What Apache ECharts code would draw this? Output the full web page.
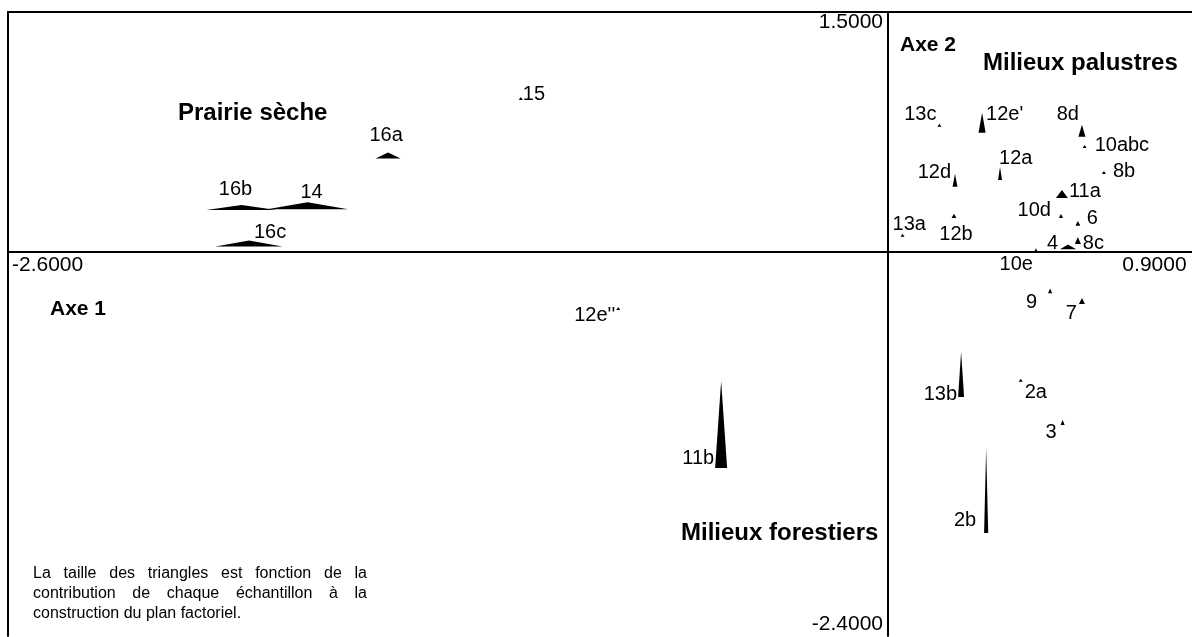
<!DOCTYPE html>
<html>
<head>
<meta charset="utf-8">
<script src="https://cdn.jsdelivr.net/npm/echarts@6/dist/echarts.min.js"></script>
<style>
html, body { margin: 0; padding: 0; background: #fff; }
#main { width: 1192px; height: 637px; }
</style>
</head>
<body>
<div id="main"></div>
<script>
// relevés : coordonnées sur les axes 1 et 2, contributions (%) aux axes 1 et 2
var names = ['13c', "12e'", '8d', '10abc', '12a', '12d', '8b', '11a', '10d', '6', '12b', '13a', '4', '8c',
    '10e', '9', '7', '13b', '2a', '3', '11b', '2b', '16a', '16b', '14', '16c', '15', "12e''"];
var axe1 = [0.152, 0.278, 0.573, 0.581, 0.331, 0.198, 0.638, 0.514, 0.511, 0.561, 0.195, 0.043, 0.532, 0.561,
    0.437, 0.479, 0.573, 0.216, 0.392, 0.516, -0.493, 0.290, -1.477, -1.910, -1.715, -1.888, -1.085, -0.797];
var axe2 = [0.783, 0.746, 0.721, 0.650, 0.450, 0.408, 0.488, 0.338, 0.213, 0.164, 0.213, 0.096, 0.017, 0.050,
    -0.003, -0.258, -0.325, -0.906, -0.811, -1.081, -1.350, -1.756, 0.584, 0.263, 0.267, 0.034, 0.950, -0.363];
var ctr1 = [1.1, 1.9, 1.9, 0.8, 0.8, 1.3, 1.1, 3.2, 0.8, 1.3, 1.3, 0.8, 4.3, 1.6,
    0.5, 0.8, 1.6, 1.6, 0.8, 1.1, 3.2, 1.1, 6.7, 18.7, 21.6, 17.9, 0.5, 0.8];
var ctr2 = [0.8, 5.3, 3.2, 0.8, 3.5, 3.5, 0.8, 2.1, 1.1, 1.3, 1.1, 0.5, 1.3, 1.9,
    1.1, 1.3, 1.6, 12.0, 0.8, 1.3, 23.2, 22.7, 1.6, 1.3, 1.9, 1.6, 0.5, 0.8];
var xTicks = [-2.6, 0.9];
var yTicks = [1.5, -2.4];

// placement des étiquettes autour de la base du triangle : [dx, dy, alignement]
var labelOffsets = {
    '13c': [-3, -12, 'right'], "12e'": [4, -18, 'left'], '8d': [-3, -22, 'right'], '10abc': [10, -3, 'left'],
    '12a': [-1, -22, 'left'], '12d': [-4, -14, 'right'], '8b': [9, -2, 'left'], '11a': [7, -6, 'left'],
    '10d': [-10, -7, 'right'], '6': [9, -7, 'left'], '12b': [2, 17, 'center'], '13a': [-10, -12, 'left'],
    '4': [-10, -6, 'right'], '8c': [5, -1, 'left'], '10e': [-3, 12, 'right'], '9': [-13, 9, 'right'],
    '7': [-5, 9, 'right'], '13b': [-4, -2, 'right'], '2a': [4, 11, 'left'], '3': [-6, 8, 'right'],
    '11b': [-7, -10, 'right'], '2b': [-10, -12, 'right'], '16a': [-2, -23, 'center'], '16b': [-6, -20, 'center'],
    '14': [4, -17, 'center'], '16c': [5, -14, 'left'], '15': [2, -6, 'left'], "12e''": [-3, 5, 'right']
};

var FONT = '"Liberation Sans", Arial, sans-serif';
var sizeScale = 3.75; // px par % de contribution

var data = names.map(function (n, i) {
    return [axe1[i], axe2[i], ctr1[i], ctr2[i]];
});

function txt(text, x, y, size, bold, align, vAlign) {
    return {
        type: 'text', x: x, y: y, silent: true,
        style: {
            text: text, fill: '#000',
            font: (bold ? 'bold ' : '') + size + 'px ' + FONT,
            align: align || 'left', textAlign: align || 'left',
            verticalAlign: vAlign || 'middle', textVerticalAlign: vAlign || 'middle'
        }
    };
}

var axisCommon = {
    type: 'value',
    axisTick: { show: false },
    axisLabel: { show: false },
    splitLine: { show: false }
};
var lineStyle = { color: '#000', width: 2 };

var chart = echarts.init(document.getElementById('main'), null, { renderer: 'canvas' });
chart.setOption({
    animation: false,
    backgroundColor: '#fff',
    grid: { left: 8, top: 12, width: 1184.6, height: 624, containLabel: false, outerBoundsMode: 'none' },
    xAxis: [
        Object.assign({}, axisCommon, { min: xTicks[0], max: xTicks[1], axisLine: { onZero: true, lineStyle: lineStyle } }),
        Object.assign({}, axisCommon, { min: xTicks[0], max: xTicks[1], position: 'top', axisLine: { onZero: false, lineStyle: lineStyle } })
    ],
    yAxis: [
        Object.assign({}, axisCommon, { min: yTicks[1], max: yTicks[0], axisLine: { onZero: true, lineStyle: lineStyle } }),
        Object.assign({}, axisCommon, { min: yTicks[1], max: yTicks[0], position: 'left', axisLine: { onZero: false, lineStyle: lineStyle } })
    ],
    series: [{
        type: 'custom',
        data: data,
        renderItem: function (params, api) {
            var p = api.coord([api.value(0), api.value(1)]);
            var w = Math.max(api.value(2) * sizeScale, 4);
            var h = Math.max(api.value(3) * sizeScale, 3);
            var name = names[params.dataIndex];
            var off = labelOffsets[name];
            return {
                type: 'group',
                children: [
                    {
                        type: 'polygon',
                        shape: { points: [[p[0] - w / 2, p[1]], [p[0] + w / 2, p[1]], [p[0], p[1] - h]] },
                        style: { fill: '#000' }
                    },
                    txt(name, p[0] + off[0], p[1] + off[1], 20, false, off[2])
                ]
            };
        }
    }]
});

// valeurs extrêmes des axes, placées avec l'échelle du graphique
var g = [];
var px = chart.convertToPixel({ gridIndex: 0 }, [xTicks[0], 0]);
g.push(txt(xTicks[0].toFixed(4), px[0] + 4, px[1] + 13, 21, false, 'left'));
px = chart.convertToPixel({ gridIndex: 0 }, [xTicks[1], 0]);
g.push(txt(xTicks[1].toFixed(4), px[0] - 6, px[1] + 13, 21, false, 'right'));
px = chart.convertToPixel({ gridIndex: 0 }, [0, yTicks[0]]);
g.push(txt(yTicks[0].toFixed(4), px[0] - 5, px[1] + 10, 21, false, 'right'));
px = chart.convertToPixel({ gridIndex: 0 }, [0, yTicks[1]]);
g.push(txt(yTicks[1].toFixed(4), px[0] - 5, px[1] - 12, 21, false, 'right'));

// titres
g.push(txt('Prairie sèche', 178, 113, 24, true));
g.push(txt('Milieux palustres', 983, 63, 24, true));
g.push(txt('Milieux forestiers', 681, 533, 24, true));
g.push(txt('Axe 1', 50, 309, 21, true));
g.push(txt('Axe 2', 900, 45, 21, true));

// note justifiée
var noteLines = [
    'La taille des triangles est fonction de la',
    'contribution de chaque échantillon à la',
    'construction du plan factoriel.'
];
var ctx = document.createElement('canvas').getContext('2d');
ctx.font = '16px ' + FONT;
var noteLeft = 33, noteRight = 367, noteTop = 574;
noteLines.forEach(function (line, li) {
    var words = line.split(' ');
    var y = noteTop + li * 20;
    if (li === noteLines.length - 1) {
        g.push(txt(line, noteLeft, y, 16, false));
        return;
    }
    var total = 0;
    words.forEach(function (w) { total += ctx.measureText(w).width; });
    var gap = (noteRight - noteLeft - total) / (words.length - 1);
    var x = noteLeft;
    words.forEach(function (w) {
        g.push(txt(w, x, y, 16, false));
        x += ctx.measureText(w).width + gap;
    });
});

chart.setOption({ graphic: { elements: g } });
</script>
</body>
</html>
